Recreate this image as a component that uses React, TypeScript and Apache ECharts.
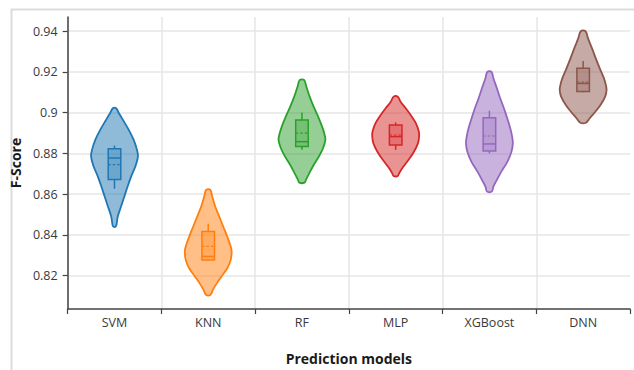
import React, { useEffect, useRef } from "react";
import * as echarts from "echarts";

// Prediction models on the x axis
const models = ["SVM", "KNN", "RF", "MLP", "XGBoost", "DNN"];
const colors = ["#1f77b4", "#ff7f0e", "#2ca02c", "#d62728", "#9467bd", "#8c564b"];

// F-Score tick values
const yTicks = [0.82, 0.84, 0.86, 0.88, 0.9, 0.92, 0.94];

// Violin outlines: [F-Score, relative half-width], top to bottom
const svmViolin = [
  [0.9021, 0.07], [0.8997, 0.19], [0.8964, 0.36], [0.8915, 0.61], [0.8866, 0.82],
  [0.8817, 0.96], [0.8784, 1.0], [0.8735, 0.89], [0.8686, 0.71], [0.8637, 0.56],
  [0.8588, 0.42], [0.8539, 0.28], [0.849, 0.14], [0.8441, 0.06],
];
const knnViolin = [
  [0.8621, 0.09], [0.8588, 0.17], [0.8539, 0.3], [0.849, 0.47], [0.8441, 0.64],
  [0.8392, 0.81], [0.8343, 0.96], [0.8318, 1.0], [0.8277, 0.96], [0.8237, 0.82],
  [0.8196, 0.57], [0.8163, 0.37], [0.813, 0.2], [0.8106, 0.1],
];
const rfViolin = [
  [0.916, 0.09], [0.9127, 0.19], [0.9078, 0.33], [0.9029, 0.5], [0.898, 0.69],
  [0.8931, 0.86], [0.889, 0.97], [0.8866, 1.0], [0.8825, 0.9], [0.8784, 0.72],
  [0.8743, 0.5], [0.8702, 0.31], [0.867, 0.17], [0.8656, 0.11],
];
const mlpViolin = [
  [0.9078, 0.09], [0.9053, 0.21], [0.9021, 0.43], [0.8988, 0.64], [0.8948, 0.86],
  [0.8906, 0.99], [0.8882, 1.0], [0.8849, 0.95], [0.8808, 0.78], [0.8768, 0.55],
  [0.8735, 0.33], [0.8705, 0.16], [0.8689, 0.09],
];
const xgboostViolin = [
  [0.92, 0.09], [0.9168, 0.17], [0.9119, 0.32], [0.907, 0.46], [0.9021, 0.62],
  [0.8972, 0.76], [0.8923, 0.89], [0.8882, 0.97], [0.8849, 1.0], [0.8808, 0.94],
  [0.8759, 0.77], [0.871, 0.51], [0.867, 0.32], [0.8637, 0.17], [0.8612, 0.1],
];
const dnnViolin = [
  [0.94, 0.1], [0.9364, 0.21], [0.9315, 0.38], [0.9266, 0.54], [0.9217, 0.71],
  [0.9168, 0.89], [0.9135, 0.97], [0.9111, 1.0], [0.9078, 0.94], [0.9037, 0.74],
  [0.9004, 0.52], [0.8972, 0.28], [0.895, 0.12],
];
const violins = [svmViolin, knnViolin, rfViolin, mlpViolin, xgboostViolin, dnnViolin];

// Inner box statistics per model
const lowerFence = [0.8626, 0.8275, 0.8817, 0.8817, 0.88, 0.91];
const q1 = [0.8671, 0.8277, 0.8833, 0.8841, 0.8812, 0.9103];
const median = [0.8777, 0.8294, 0.8857, 0.8882, 0.8846, 0.9143];
const mean = [0.8745, 0.8343, 0.8899, 0.889, 0.8885, 0.915];
const q3 = [0.8823, 0.8416, 0.8964, 0.8939, 0.8975, 0.9217];
const upperFence = [0.8838, 0.8454, 0.9, 0.8952, 0.9009, 0.9253];

const FONT = "'Open Sans', 'Noto Sans', sans-serif";

function violinSeries(i: number): echarts.CustomSeriesOption {
  const color = colors[i];
  const fill = echarts.color.modifyAlpha(color, 0.5);
  const boxFill = echarts.color.modifyAlpha(color, 0.3);
  return {
    type: "custom",
    name: models[i],
    data: [[i, median[i]]],
    encode: { x: 0, y: 1 },
    renderItem: (_params: any, api: any) => {
      const band = api.size([1, 0])[0];
      const cx = api.coord([i, median[i]])[0];
      const halfMax = band * 0.25;
      const halfBox = band * 0.067;
      const yOf = (v: number) => api.coord([i, v])[1];

      const right = violins[i].map(([v, r]) => [cx + r * halfMax, yOf(v)]);
      const left = violins[i]
        .slice()
        .reverse()
        .map(([v, r]) => [cx - r * halfMax, yOf(v)]);

      const yq1 = yOf(q1[i]);
      const yq3 = yOf(q3[i]);
      return {
        type: "group",
        children: [
          {
            type: "polygon",
            shape: { points: right.concat(left), smooth: 0.35 },
            style: { fill, stroke: color, lineWidth: 1.8 },
          },
          {
            type: "line",
            shape: { x1: cx, y1: yOf(upperFence[i]), x2: cx, y2: yq3 },
            style: { stroke: color, lineWidth: 1.5 },
          },
          {
            type: "line",
            shape: { x1: cx, y1: yq1, x2: cx, y2: yOf(lowerFence[i]) },
            style: { stroke: color, lineWidth: 1.5 },
          },
          {
            type: "rect",
            shape: { x: cx - halfBox, y: yq3, width: halfBox * 2, height: yq1 - yq3 },
            style: { fill: boxFill, stroke: color, lineWidth: 1.5 },
          },
          {
            type: "line",
            shape: { x1: cx - halfBox, y1: yOf(median[i]), x2: cx + halfBox, y2: yOf(median[i]) },
            style: { stroke: color, lineWidth: 1.5 },
          },
          {
            type: "line",
            shape: { x1: cx - halfBox, y1: yOf(mean[i]), x2: cx + halfBox, y2: yOf(mean[i]) },
            style: { stroke: color, lineWidth: 1.2, lineDash: [2.5, 2] },
          },
        ],
      };
    },
  };
}

export default function App() {
  const ref = useRef<HTMLDivElement>(null);

  useEffect(() => {
    if (!ref.current) return;
    const chart = echarts.init(ref.current, undefined, { renderer: "svg" });
    chart.setOption({
      animation: false,
      backgroundColor: "#ffffff",
      graphic: [
        {
          type: "rect",
          left: 9,
          top: 7,
          shape: { width: 700, height: 500 },
          style: { fill: "none", stroke: "#dcdcdc", lineWidth: 2 },
          silent: true,
          z: -10,
        },
      ],
      grid: { left: 63, right: 4, top: 17, bottom: 60.5, containLabel: false },
      xAxis: {
        type: "category",
        data: models,
        boundaryGap: true,
        name: "Prediction models",
        nameLocation: "middle",
        nameGap: 42,
        nameTextStyle: { fontFamily: FONT, fontWeight: "bold", fontSize: 14, color: "#1a1a1a" },
        axisLine: { show: true, lineStyle: { color: "#444", width: 1.5 } },
        axisTick: { show: true, length: 5, alignWithLabel: false, lineStyle: { color: "#444", width: 1.2 } },
        axisLabel: { margin: 7, fontFamily: FONT, fontSize: 12.5, color: "#3a3a3a" },
        splitLine: { show: true, showMaxLine: false, lineStyle: { color: "#e6e6e6", width: 1.5 } },
      },
      yAxis: {
        type: "value",
        min: 0.8036,
        max: 0.9469,
        name: "F-Score",
        nameLocation: "middle",
        nameGap: 36,
        nameTextStyle: { fontFamily: FONT, fontWeight: "bold", fontSize: 14, color: "#1a1a1a" },
        axisLine: { show: true, lineStyle: { color: "#444", width: 1.5 } },
        axisTick: { show: true, length: 5, customValues: yTicks, lineStyle: { color: "#444", width: 1.2 } },
        axisLabel: { customValues: yTicks, margin: 10, fontFamily: FONT, fontSize: 12.5, color: "#3a3a3a" },
        splitLine: { show: true, lineStyle: { color: "#e6e6e6", width: 1.5 } },
      },
      series: models.map((_, i) => violinSeries(i)),
    });
    return () => chart.dispose();
  }, []);

  return (
    <div
      ref={ref}
      style={{ position: "absolute", left: 0, top: 0, width: 634, height: 370 }}
    />
  );
}
